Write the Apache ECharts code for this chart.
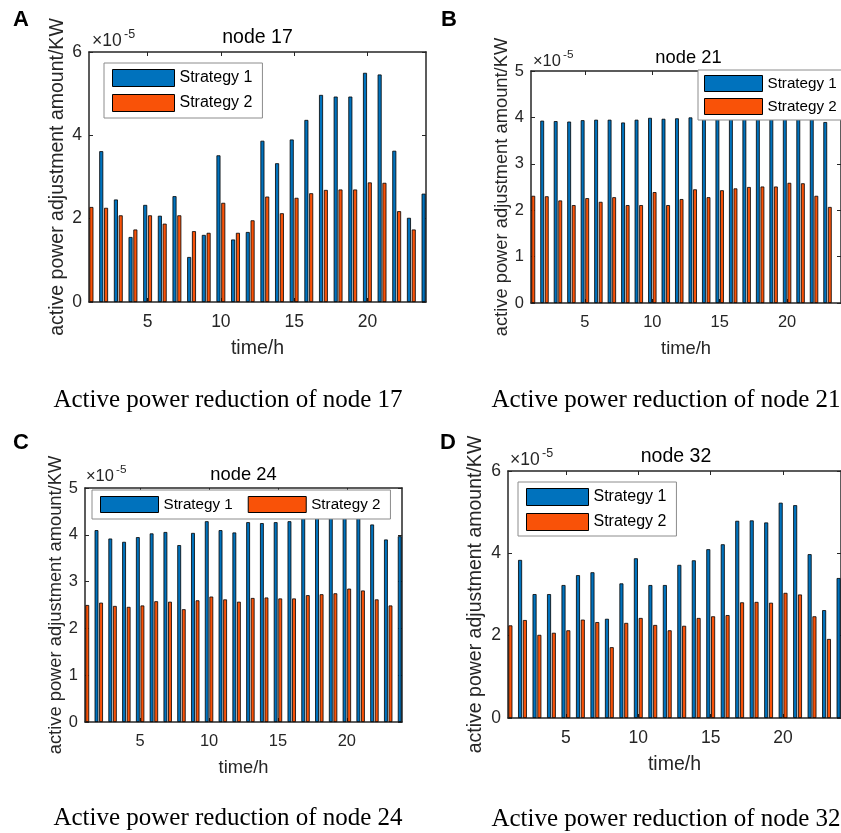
<!DOCTYPE html>
<html>
<head>
<meta charset="utf-8">
<script src="https://cdn.jsdelivr.net/npm/echarts@6/dist/echarts.min.js"></script>
<style>
  html, body { margin: 0; padding: 0; background: #fff; }
  #chart { width: 841px; height: 833px; }
</style>
</head>
<body>
<div id="chart"></div>
<script>
// hours on the x axis
const hours = [1, 2, 3, 4, 5, 6, 7, 8, 9, 10, 11, 12, 13, 14, 15, 16, 17, 18, 19, 20, 21, 22, 23, 24];
const xTicks = [5, 10, 15, 20];
const seriesNames = ['Strategy 1', 'Strategy 2'];

// values in units of 1e-5 KW (null = outside the visible axes)
const node17S1 = [null, 3.62, 2.46, 1.56, 2.33, 2.07, 2.54, 1.08, 1.61, 3.52, 1.50, 1.68, 3.87, 3.33, 3.90, 4.37, 4.97, 4.93, 4.93, 5.50, 5.46, 3.63, 2.02, 2.60];
const node17S2 = [2.28, 2.26, 2.08, 1.74, 2.08, 1.88, 2.08, 1.70, 1.66, 2.38, 1.66, 1.96, 2.53, 2.13, 2.50, 2.61, 2.69, 2.70, 2.70, 2.87, 2.86, 2.18, 1.74, null];

const node21S1 = [null, 3.93, 3.92, 3.91, 3.94, 3.95, 3.95, 3.89, 3.95, 3.99, 3.97, 3.98, 4.00, 4.02, 4.03, 4.03, 4.04, 4.05, 4.05, 4.06, 4.05, 4.02, 3.90, null];
const node21S2 = [2.31, 2.30, 2.21, 2.11, 2.26, 2.18, 2.28, 2.11, 2.11, 2.39, 2.11, 2.24, 2.45, 2.28, 2.43, 2.47, 2.50, 2.51, 2.51, 2.59, 2.58, 2.31, 2.07, null];

const node24S1 = [null, 4.10, 3.92, 3.85, 3.95, 4.03, 4.06, 3.78, 4.04, 4.29, 4.10, 4.05, 4.27, 4.25, 4.27, 4.29, 4.45, 4.50, 4.55, 4.65, 4.60, 4.22, 3.90, 3.97];
const node24S2 = [2.50, 2.55, 2.48, 2.46, 2.49, 2.58, 2.57, 2.41, 2.60, 2.68, 2.62, 2.57, 2.65, 2.66, 2.64, 2.64, 2.71, 2.73, 2.75, 2.85, 2.81, 2.62, 2.49, null];

const node32S1 = [null, 3.84, 3.01, 3.01, 3.23, 3.47, 3.54, 2.41, 3.27, 3.88, 3.23, 3.23, 3.72, 3.83, 4.10, 4.22, 4.79, 4.80, 4.75, 5.23, 5.17, 3.98, 2.62, 3.40];
const node32S2 = [2.25, 2.38, 2.02, 2.07, 2.13, 2.39, 2.33, 1.72, 2.31, 2.43, 2.26, 2.13, 2.24, 2.43, 2.47, 2.50, 2.81, 2.82, 2.80, 3.04, 3.00, 2.47, 1.92, null];

const SANS = '"Liberation Sans", Arial, sans-serif';
const SERIF = '"Liberation Serif", "Times New Roman", serif';
const AXIS_COLOR = '#262626';
const BLUE = '#0072BD';
const ORANGE = '#F95208';

// layout of the four panels
const panels = [
  {
    letter: 'A', title: 'node 17', caption: 'Active power reduction of node 17',
    s1: node17S1, s2: node17S2, yMax: 6, yStep: 2,
    grid: { left: 89, top: 52, width: 337, height: 250 },
    scale: 1, yNameGap: 21, barWidth: 4,
    legend: { left: 104, top: 63, orient: 'vertical', itemWidth: 62, itemHeight: 17, itemGap: 7, padding: [6, 10, 6, 8] },
    letterPos: [21, 20], captionPos: [228, 400], mult: [92, 41]
  },
  {
    letter: 'B', title: 'node 21', caption: 'Active power reduction of node 21',
    s1: node21S1, s2: node21S2, yMax: 5, yStep: 1,
    grid: { left: 531, top: 71, width: 315, height: 232 },
    scale: 0.94, yNameGap: 19, barWidth: 3.8,
    legend: { left: 698, top: 70, orient: 'vertical', itemWidth: 58, itemHeight: 16, itemGap: 6, padding: [5, 16, 5, 6] },
    letterPos: [449, 20], captionPos: [666, 400], mult: [533, 61]
  },
  {
    letter: 'C', title: 'node 24', caption: 'Active power reduction of node 24',
    s1: node24S1, s2: node24S2, yMax: 5, yStep: 1,
    grid: { left: 85, top: 488, width: 317, height: 234 },
    scale: 0.94, yNameGap: 19, barWidth: 3.8,
    legend: { left: 92, top: 490, orient: 'horizontal', itemWidth: 58, itemHeight: 16, itemGap: 15, padding: [6, 10, 6, 8] },
    letterPos: [21, 443], captionPos: [228, 818], mult: [86, 476]
  },
  {
    letter: 'D', title: 'node 32', caption: 'Active power reduction of node 32',
    s1: node32S1, s2: node32S2, yMax: 6, yStep: 2,
    grid: { left: 508, top: 471, width: 336, height: 247 },
    scale: 1, yNameGap: 22, barWidth: 4,
    legend: { left: 518, top: 482, orient: 'vertical', itemWidth: 62, itemHeight: 17, itemGap: 7, padding: [6, 10, 5, 8] },
    letterPos: [448, 443], captionPos: [666, 819], mult: [510, 460]
  }
];

const chart = echarts.init(document.getElementById('chart'), null, { renderer: 'canvas' });

const grid = [], xAxis = [], yAxis = [], series = [], legend = [], graphic = [];

panels.forEach((p, i) => {
  const tickFs = 17.5 * p.scale;
  const labelFs = 19.5 * p.scale;
  grid.push(p.grid);

  const axisLine = { show: true, onZero: false, lineStyle: { color: AXIS_COLOR, width: 1.5 } };
  const tick = { show: true, inside: true, length: 4, lineStyle: { color: AXIS_COLOR, width: 1 } };

  // bottom x axis
  xAxis.push({
    type: 'value', gridIndex: i, min: 1, max: 24, position: 'bottom',
    axisLine: axisLine,
    axisTick: Object.assign({ customValues: xTicks }, tick),
    axisLabel: { customValues: xTicks, margin: 11, color: AXIS_COLOR, fontSize: tickFs, fontFamily: SANS },
    splitLine: { show: false },
    name: 'time/h', nameLocation: 'middle', nameGap: 37,
    nameTextStyle: { color: AXIS_COLOR, fontSize: labelFs, fontFamily: SANS }
  });
  // top mirror axis (box + ticks)
  xAxis.push({
    type: 'value', gridIndex: i, min: 1, max: 24, position: 'top',
    axisLine: axisLine,
    axisTick: Object.assign({ customValues: xTicks }, tick),
    axisLabel: { show: false },
    splitLine: { show: false }
  });
  // left y axis
  yAxis.push({
    type: 'value', gridIndex: i, min: 0, max: p.yMax, interval: p.yStep, position: 'left',
    axisLine: axisLine, axisTick: tick,
    axisLabel: { margin: 7, color: AXIS_COLOR, fontSize: tickFs, fontFamily: SANS },
    splitLine: { show: false },
    name: 'active power adjustment amount/KW', nameLocation: 'middle', nameGap: p.yNameGap,
    nameTextStyle: { color: AXIS_COLOR, fontSize: labelFs, fontFamily: SANS }
  });
  // right mirror axis
  yAxis.push({
    type: 'value', gridIndex: i, min: 0, max: p.yMax, interval: p.yStep, position: 'right',
    axisLine: axisLine, axisTick: tick,
    axisLabel: { show: false },
    splitLine: { show: false }
  });

  [p.s1, p.s2].forEach((vals, k) => {
    series.push({
      name: seriesNames[k],
      type: 'bar',
      xAxisIndex: i * 2,
      yAxisIndex: i * 2,
      barWidth: p.barWidth,
      barGap: '20%',
      clip: true,
      itemStyle: { color: k === 0 ? BLUE : ORANGE, borderColor: '#000', borderWidth: 0.8 },
      emphasis: { disabled: true },
      data: hours.map((h, j) => [h, vals[j]])
    });
  });

  legend.push(Object.assign({
    data: seriesNames,
    selectedMode: false,
    icon: 'rect',
    backgroundColor: '#fff',
    borderColor: '#8c8c8c',
    borderWidth: 1,
    borderRadius: 0,
    itemStyle: { borderColor: '#000', borderWidth: 1 },
    textStyle: { color: '#000', fontSize: 16 * (p.scale < 1 ? 0.95 : 1), fontFamily: SANS },
    z: 10
  }, p.legend));

  // panel title
  const cx = p.grid.left + p.grid.width / 2;
  graphic.push({
    type: 'text', x: cx, y: p.grid.top - 14 * p.scale,
    style: { text: p.title, textAlign: 'center', align: 'center', textVerticalAlign: 'middle', verticalAlign: 'middle',
      fontSize: labelFs, fontFamily: SANS, fill: '#000' }
  });
  // x10^-5 multiplier
  graphic.push({
    type: 'text', x: p.mult[0], y: p.mult[1],
    style: { text: '\u00d710', textAlign: 'left', align: 'left', textVerticalAlign: 'middle', verticalAlign: 'middle',
      fontSize: 17.5 * p.scale, fontFamily: SANS, fill: AXIS_COLOR }
  });
  graphic.push({
    type: 'text', x: p.mult[0] + 32 * p.scale, y: p.mult[1] - 6.5 * p.scale,
    style: { text: '-5', textAlign: 'left', align: 'left', textVerticalAlign: 'middle', verticalAlign: 'middle',
      fontSize: 12.5 * p.scale, fontFamily: SANS, fill: AXIS_COLOR }
  });
  // panel letter
  graphic.push({
    type: 'text', x: p.letterPos[0], y: p.letterPos[1],
    style: { text: p.letter, textAlign: 'center', align: 'center', textVerticalAlign: 'middle', verticalAlign: 'middle',
      fontSize: 22, fontWeight: 'bold', fontFamily: SANS, fill: '#000' }
  });
  // caption
  graphic.push({
    type: 'text', x: p.captionPos[0], y: p.captionPos[1],
    style: { text: p.caption, textAlign: 'center', align: 'center', textVerticalAlign: 'middle', verticalAlign: 'middle',
      fontSize: 25, fontFamily: SERIF, fill: '#000' }
  });
});

chart.setOption({
  animation: false,
  backgroundColor: '#fff',
  grid: grid,
  xAxis: xAxis,
  yAxis: yAxis,
  legend: legend,
  series: series,
  graphic: graphic
});
</script>
</body>
</html>
